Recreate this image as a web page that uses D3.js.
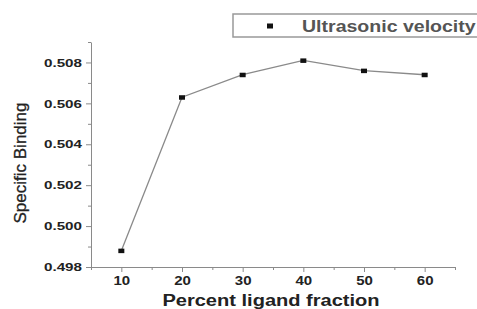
<!DOCTYPE html>
<html>
<head>
<meta charset="utf-8">
<script src="https://cdn.jsdelivr.net/npm/d3@7"></script>
<style>
  body { margin: 0; background: #fff; }
  svg { display: block; font-family: "Liberation Sans", Arial, sans-serif; }
</style>
</head>
<body>
<div id="container"></div>
<script>
// values
var fraction = [10, 20, 30, 40, 50, 60];
var binding = [0.4988, 0.5063, 0.5074, 0.5081, 0.5076, 0.5074];
var yTicks = [0.498, 0.500, 0.502, 0.504, 0.506, 0.508];
var xTicks = [10, 20, 30, 40, 50, 60];
var seriesName = "Ultrasonic velocity";

var width = 477, height = 309;
var plotLeft = 91, plotRight = 455, plotTop = 42, plotBottom = 267;
var stretch = 1.25; // the original picture is squeezed wide

var svg = d3.select("#container")
  .append("svg")
  .attr("width", width)
  .attr("height", height);

var x = d3.scaleLinear().domain([5, 65]).range([plotLeft, plotRight]);
var y = d3.scaleLinear().domain([0.498, 0.509]).range([plotBottom, plotTop]);

// minor ticks first
var xMinor = d3.range(5, 66, 10);
var yMinor = d3.range(0.499, 0.5095, 0.002);

svg.append("g")
  .attr("transform", "translate(0," + plotBottom + ")")
  .call(d3.axisBottom(x).tickValues(xMinor).tickSize(3).tickFormat(""))
  .call(function(g) { g.select(".domain").remove(); });

svg.append("g")
  .attr("transform", "translate(" + plotLeft + ",0)")
  .call(d3.axisLeft(y).tickValues(yMinor).tickSize(3).tickFormat(""))
  .call(function(g) { g.select(".domain").remove(); });

// main axes
var xAxis = svg.append("g")
  .attr("transform", "translate(0," + plotBottom + ")")
  .call(d3.axisBottom(x).tickValues(xTicks).tickSize(5).tickSizeOuter(0).tickPadding(4));

var yAxis = svg.append("g")
  .attr("transform", "translate(" + plotLeft + ",0)")
  .call(d3.axisLeft(y).tickValues(yTicks).tickSize(5).tickSizeOuter(0).tickFormat(d3.format(".3f")));

svg.selectAll(".tick line, .domain").attr("stroke", "#8a8a8a");

xAxis.selectAll("text")
  .attr("font-size", 12)
  .attr("font-weight", "bold")
  .attr("fill", "#222")
  .attr("transform", "scale(" + stretch + ",1)");

yAxis.selectAll("text")
  .attr("font-size", 11.5)
  .attr("font-weight", "bold")
  .attr("fill", "#222")
  .attr("x", 0)
  .attr("transform", "translate(-9,0) scale(1.32,1)");

// line
var line = d3.line()
  .x(function(d, i) { return x(fraction[i]); })
  .y(function(d) { return y(d); });

svg.append("path")
  .datum(binding)
  .attr("d", line)
  .attr("fill", "none")
  .attr("stroke", "#8a8a8a")
  .attr("stroke-width", 1.3);

svg.selectAll("rect.pt")
  .data(binding)
  .enter()
  .append("rect")
  .attr("class", "pt")
  .attr("x", function(d, i) { return x(fraction[i]) - 3; })
  .attr("y", function(d) { return y(d) - 2; })
  .attr("width", 6)
  .attr("height", 4.5)
  .attr("fill", "#111");

// axis titles
svg.append("text")
  .attr("transform", "translate(271,306) scale(1.18,1)")
  .attr("text-anchor", "middle")
  .attr("font-size", 17)
  .attr("font-weight", "bold")
  .attr("fill", "#222")
  .text("Percent ligand fraction");

svg.append("text")
  .attr("transform", "translate(26,163) rotate(-90)")
  .attr("text-anchor", "middle")
  .attr("font-size", 17)
  .attr("fill", "#222")
  .attr("stroke", "#222")
  .attr("stroke-width", 0.3)
  .text("Specific Binding");

// legend
var legend = svg.append("g");
legend.append("rect")
  .attr("x", 233)
  .attr("y", 14)
  .attr("width", 260)
  .attr("height", 23)
  .attr("fill", "#fff")
  .attr("stroke", "#999")
  .attr("stroke-width", 1.5);
legend.append("rect")
  .attr("x", 267)
  .attr("y", 23.5)
  .attr("width", 6)
  .attr("height", 5)
  .attr("fill", "#111");
legend.append("text")
  .attr("transform", "translate(302,32) scale(1.15,1)")
  .attr("font-size", 17)
  .attr("font-weight", "bold")
  .attr("fill", "#555")
  .text(seriesName);
</script>
</body>
</html>
